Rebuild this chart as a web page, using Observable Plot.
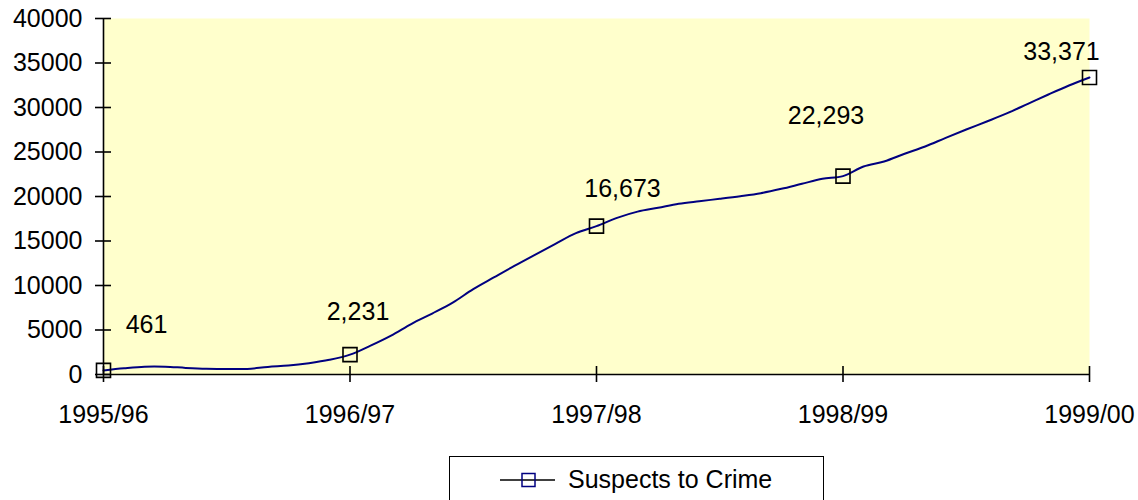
<!DOCTYPE html>
<html>
<head>
<meta charset="utf-8">
<script src="https://cdn.jsdelivr.net/npm/d3@7"></script>
<script src="https://cdn.jsdelivr.net/npm/@observablehq/plot@0.6"></script>
<style>
  body { margin: 0; background: white; font-family: "Liberation Sans", Arial, sans-serif; }
  #legend { position: relative; width: 1138px; height: 60px; }
  #legend .box { position: absolute; left: 449px; top: 16px; width: 375px; height: 56px; border: 1.5px solid black; box-sizing: border-box; }
  #legend .item { position: absolute; left: 50px; top: 8px; display: flex; align-items: center; font-size: 25px; color: black; }
</style>
</head>
<body>
<div id="chart"></div>
<div id="legend"><div class="box"><div class="item">
  <svg width="62" height="20" style="margin-right:6px"><line x1="0" y1="10" x2="55" y2="10" stroke="black" stroke-width="1.5"/><rect x="22" y="3.5" width="13" height="13" fill="none" stroke="#000080" stroke-width="1.5"/></svg>
  <span id="seriesName"></span></div></div></div>
<script>
// Tick labels (one per financial year, at whole-year positions)
const periods = ["1995/96", "1996/97", "1997/98", "1998/99", "1999/00"];
const yTicks = [0, 5000, 10000, 15000, 20000, 25000, 30000, 35000, 40000];
const seriesName = "Suspects to Crime";
// Year-end labelled values
const yearValues = [461, 2231, 16673, 22293, 33371];
// Monthly cumulative values (months 0..48)
const monthly = [
  461, 700, 880, 880, 740, 640, 620, 620, 850, 1000, 1270, 1650,
  2231, 3250, 4380, 5700, 6850, 8070, 9590, 10900, 12200, 13450, 14680, 15880,
  16673, 17600, 18300, 18730, 19180, 19470, 19740, 20030, 20370, 20860, 21430, 21990,
  22293, 23370, 23930, 24800, 25620, 26590, 27530, 28430, 29360, 30410, 31460, 32470,
  33371
];

document.getElementById("seriesName").textContent = seriesName;

const lineRows = monthly.map((v, i) => ({t: i / 12, v}));
const pointRows = yearValues.map((v, i) => ({t: i, v, label: d3.format(",")(v)}));
// label offsets as placed in the original
const labelOffsets = [[43, -45], [8, -43], [26, -37], [-17, -60], [-28, -25]];

const chart = Plot.plot({
  width: 1138,
  height: 440,
  marginLeft: 103,
  marginRight: 49,
  marginTop: 18,
  marginBottom: 66,
  style: {fontFamily: "'Liberation Sans', Arial, sans-serif", fontSize: "25px", color: "black", background: "white"},
  x: {domain: [0, 4], label: null},
  y: {domain: [0, 40000], label: null},
  marks: [
    Plot.frame({fill: "#FFFFCC", stroke: "none"}),
    Plot.line(lineRows, {x: "t", y: "v", curve: "catmull-rom", stroke: "#000080", strokeWidth: 2}),
    Plot.dot(pointRows, {x: "t", y: "v", symbol: "square", r: 7.9, stroke: "black", strokeWidth: 1.6, fill: "none"}),
    ...pointRows.map((d, i) => Plot.text([d], {x: "t", y: "v", text: "label", dx: labelOffsets[i][0], dy: labelOffsets[i][1], fill: "black", fontSize: 25})),
    Plot.ruleX([0], {stroke: "black", strokeWidth: 1.6}),
    Plot.ruleY([0], {stroke: "black", strokeWidth: 1.6}),
    Plot.axisY({ticks: yTicks, tickSize: 8, tickPadding: 13, tickFormat: d3.format("d"), label: null, strokeWidth: 1.6}),
    Plot.axisY({ticks: yTicks, tickSize: 8, dx: 8, tickFormat: () => "", label: null, strokeWidth: 1.6}),
    Plot.axisX({ticks: [0, 1, 2, 3, 4], tickSize: 8, tickPadding: 23, tickFormat: i => periods[i], label: null, strokeWidth: 1.6}),
    Plot.axisX({ticks: [0, 1, 2, 3, 4], tickSize: 8, dy: -8, tickFormat: () => "", label: null, strokeWidth: 1.6})
  ]
});
document.getElementById("chart").appendChild(chart);
</script>
</body>
</html>
